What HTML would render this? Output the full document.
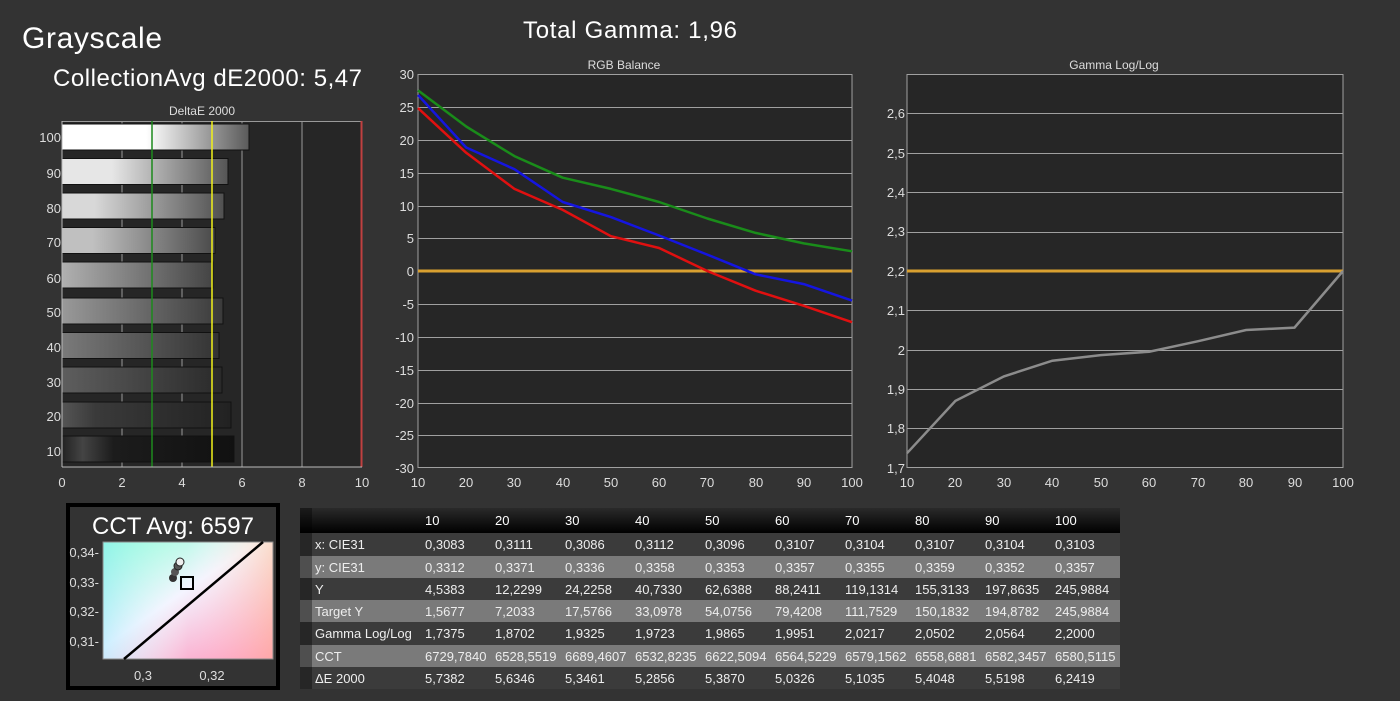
<!DOCTYPE html>
<html><head><meta charset="utf-8"><style>
html,body{margin:0;padding:0;background:#333;}
svg{display:block;font-family:"Liberation Sans",sans-serif;}
</style></head><body>
<svg width="1400" height="701" viewBox="0 0 1400 701" xmlns="http://www.w3.org/2000/svg">
<defs>
<linearGradient id="cie" x1="0" y1="0" x2="1" y2="1">
<stop offset="0" stop-color="#7fffd0"/><stop offset="0.45" stop-color="#f4f4ff"/><stop offset="1" stop-color="#ff7fae"/>
</linearGradient>
<linearGradient id="cie2" x1="0" y1="0" x2="1" y2="0">
<stop offset="0" stop-color="#a0e8ff" stop-opacity="0.5"/><stop offset="0.5" stop-color="#fff" stop-opacity="0"/><stop offset="1" stop-color="#ffd0a0" stop-opacity="0.5"/>
</linearGradient>
<linearGradient id="hdr" x1="0" y1="0" x2="0" y2="1"><stop offset="0" stop-color="#2a2a2a"/><stop offset="1" stop-color="#000"/></linearGradient>
</defs>
<rect width="1400" height="701" fill="#333"/>
<text x="22" y="48" font-size="30" fill="#fff" textLength="140">Grayscale</text>
<text x="53" y="86" font-size="24" fill="#fff" textLength="309">CollectionAvg dE2000: 5,47</text>
<text x="523" y="38" font-size="24" fill="#fff" textLength="214">Total Gamma: 1,96</text>

<!-- DeltaE chart -->
<text x="202" y="115" font-size="12" fill="#ddd" text-anchor="middle">DeltaE 2000</text>
<rect x="62" y="121" width="300" height="346" fill="#262626"/>
<g stroke="#999" stroke-width="1">
<line x1="122" y1="121" x2="122" y2="467"/><line x1="182" y1="121" x2="182" y2="467"/><line x1="242" y1="121" x2="242" y2="467"/><line x1="302" y1="121" x2="302" y2="467"/>
<line x1="62" y1="121.5" x2="362" y2="121.5"/>
</g>
<g id="bars" stroke="#111" stroke-width="1">
<linearGradient id="b100"><stop offset="0.45" stop-color="#fff"/><stop offset="1" stop-color="#5a5a5a"/></linearGradient>
<linearGradient id="b90"><stop offset="0.3" stop-color="#e6e6e6"/><stop offset="1" stop-color="#555"/></linearGradient>
<linearGradient id="b80"><stop offset="0.2" stop-color="#d8d8d8"/><stop offset="1" stop-color="#505050"/></linearGradient>
<linearGradient id="b70"><stop offset="0.2" stop-color="#c0c0c0"/><stop offset="1" stop-color="#4a4a4a"/></linearGradient>
<linearGradient id="b60"><stop offset="0" stop-color="#b0b0b0"/><stop offset="1" stop-color="#444"/></linearGradient>
<linearGradient id="b50"><stop offset="0" stop-color="#999"/><stop offset="1" stop-color="#3a3a3a"/></linearGradient>
<linearGradient id="b40"><stop offset="0" stop-color="#7a7a7a"/><stop offset="1" stop-color="#333"/></linearGradient>
<linearGradient id="b30"><stop offset="0" stop-color="#5e5e5e"/><stop offset="1" stop-color="#2a2a2a"/></linearGradient>
<linearGradient id="b20"><stop offset="0" stop-color="#555"/><stop offset="0.2" stop-color="#3a3a3a"/><stop offset="1" stop-color="#222"/></linearGradient>
<linearGradient id="b10"><stop offset="0" stop-color="#222"/><stop offset="0.12" stop-color="#444"/><stop offset="0.3" stop-color="#1c1c1c"/><stop offset="1" stop-color="#111"/></linearGradient>
<rect x="62" y="124" width="187" height="26" fill="url(#b100)"/>
<rect x="62" y="158.5" width="166" height="26" fill="url(#b90)"/>
<rect x="62" y="193" width="162" height="26" fill="url(#b80)"/>
<rect x="62" y="227.5" width="153" height="26" fill="url(#b70)"/>
<rect x="62" y="262" width="151" height="26" fill="url(#b60)"/>
<rect x="62" y="298" width="161" height="26" fill="url(#b50)"/>
<rect x="62" y="332.5" width="157" height="26" fill="url(#b40)"/>
<rect x="62" y="367" width="160" height="26" fill="url(#b30)"/>
<rect x="62" y="402" width="169" height="26" fill="url(#b20)"/>
<rect x="62" y="436" width="172" height="26" fill="url(#b10)"/>
</g>
<line x1="152" y1="121" x2="152" y2="467" stroke="#1d8a1d" stroke-width="1.5"/>
<line x1="212" y1="121" x2="212" y2="467" stroke="#f2f21a" stroke-width="1.5"/>
<line x1="361.5" y1="121" x2="361.5" y2="467" stroke="#c04040" stroke-width="2"/>
<line x1="62" y1="121" x2="62" y2="467" stroke="#bbb"/>
<line x1="62" y1="467" x2="362" y2="467" stroke="#bbb"/>
<g font-size="13" fill="#ddd" text-anchor="end">
<text x="61" y="142">100</text><text x="61" y="178">90</text><text x="61" y="213">80</text><text x="61" y="247">70</text><text x="61" y="283">60</text><text x="61" y="317">50</text><text x="61" y="352">40</text><text x="61" y="387">30</text><text x="61" y="421">20</text><text x="61" y="456">10</text>
</g>
<g font-size="13" fill="#ddd" text-anchor="middle">
<text x="62" y="487">0</text><text x="122" y="487">2</text><text x="182" y="487">4</text><text x="242" y="487">6</text><text x="302" y="487">8</text><text x="362" y="487">10</text>
</g>

<!-- RGB Balance -->
<text x="624" y="69" font-size="12" fill="#ddd" text-anchor="middle">RGB Balance</text>
<rect x="418" y="74" width="434" height="394" fill="#262626"/>
<g stroke="#a0a0a0" stroke-width="1">
<line x1="418" y1="74.5" x2="852" y2="74.5"/><line x1="418" y1="107.5" x2="852" y2="107.5"/><line x1="418" y1="140.5" x2="852" y2="140.5"/><line x1="418" y1="173.5" x2="852" y2="173.5"/><line x1="418" y1="206.5" x2="852" y2="206.5"/><line x1="418" y1="238.5" x2="852" y2="238.5"/><line x1="418" y1="304.5" x2="852" y2="304.5"/><line x1="418" y1="337.5" x2="852" y2="337.5"/><line x1="418" y1="370.5" x2="852" y2="370.5"/><line x1="418" y1="403.5" x2="852" y2="403.5"/><line x1="418" y1="435.5" x2="852" y2="435.5"/>
<line x1="418" y1="74" x2="418" y2="468"/><line x1="852" y1="74" x2="852" y2="468"/><line x1="418" y1="467.5" x2="852" y2="467.5"/>
</g>
<line x1="418" y1="271" x2="852" y2="271" stroke="#d8a030" stroke-width="3"/>
<g fill="none" stroke-width="2.5" stroke-linejoin="round">
<polyline stroke="#1a8c1a" points="418,90.4 466.2,126.5 514.4,156.1 562.7,177.7 610.9,188.9 659.1,202 707.3,218.5 755.6,232.9 803.8,243.4 852,251.3"/>
<polyline stroke="#e01010" points="418,108.1 466.2,152.8 514.4,188.9 562.7,209.9 610.9,236.2 659.1,248 707.3,271 755.6,290.7 803.8,305.8 852,322.2"/>
<polyline stroke="#1515e0" points="418,95 466.2,147.5 514.4,169.2 562.7,202 610.9,217.1 659.1,235.5 707.3,254.6 755.6,274.3 803.8,284.1 852,300.6"/>
</g>
<g font-size="13" fill="#ddd" text-anchor="end">
<text x="414" y="79">30</text><text x="414" y="112">25</text><text x="414" y="145">20</text><text x="414" y="178">15</text><text x="414" y="211">10</text><text x="414" y="243">5</text><text x="414" y="276">0</text><text x="414" y="309">-5</text><text x="414" y="342">-10</text><text x="414" y="375">-15</text><text x="414" y="408">-20</text><text x="414" y="440">-25</text><text x="414" y="473">-30</text>
</g>
<g font-size="13" fill="#ddd" text-anchor="middle">
<text x="418" y="487">10</text><text x="466" y="487">20</text><text x="514" y="487">30</text><text x="563" y="487">40</text><text x="611" y="487">50</text><text x="659" y="487">60</text><text x="707" y="487">70</text><text x="756" y="487">80</text><text x="804" y="487">90</text><text x="852" y="487">100</text>
</g>

<!-- Gamma -->
<text x="1114" y="69" font-size="12" fill="#ddd" text-anchor="middle">Gamma Log/Log</text>
<rect x="907" y="74" width="436" height="394" fill="#262626"/>
<g stroke="#a0a0a0" stroke-width="1">
<line x1="907" y1="113.5" x2="1343" y2="113.5"/><line x1="907" y1="153.5" x2="1343" y2="153.5"/><line x1="907" y1="192.5" x2="1343" y2="192.5"/><line x1="907" y1="232.5" x2="1343" y2="232.5"/><line x1="907" y1="310.5" x2="1343" y2="310.5"/><line x1="907" y1="350.5" x2="1343" y2="350.5"/><line x1="907" y1="389.5" x2="1343" y2="389.5"/><line x1="907" y1="428.5" x2="1343" y2="428.5"/>
<line x1="907" y1="74.5" x2="1343" y2="74.5"/><line x1="907" y1="74" x2="907" y2="468"/><line x1="1343" y1="74" x2="1343" y2="468"/><line x1="907" y1="467.5" x2="1343" y2="467.5"/>
</g>
<line x1="907" y1="271" x2="1343" y2="271" stroke="#d8a030" stroke-width="3"/>
<polyline fill="none" stroke="#8c8c8c" stroke-width="2.5" points="907,453.2 955.4,400.9 1003.9,376.4 1052.3,360.7 1100.8,355.1 1149.2,351.7 1197.6,341.3 1246.1,330 1294.5,327.6 1343,271"/>
<g font-size="13" fill="#ddd" text-anchor="end">
<text x="905" y="118">2,6</text><text x="905" y="158">2,5</text><text x="905" y="197">2,4</text><text x="905" y="236">2,3</text><text x="905" y="276">2,2</text><text x="905" y="315">2,1</text><text x="905" y="355">2</text><text x="905" y="394">1,9</text><text x="905" y="433">1,8</text><text x="905" y="473">1,7</text>
</g>
<g font-size="13" fill="#ddd" text-anchor="middle">
<text x="907" y="487">10</text><text x="955" y="487">20</text><text x="1004" y="487">30</text><text x="1052" y="487">40</text><text x="1101" y="487">50</text><text x="1149" y="487">60</text><text x="1198" y="487">70</text><text x="1246" y="487">80</text><text x="1295" y="487">90</text><text x="1343" y="487">100</text>
</g>

<!-- CCT box -->
<rect x="68" y="505" width="210" height="183" fill="#333" stroke="#000" stroke-width="4"/>
<text x="173" y="534" font-size="24" fill="#fff" text-anchor="middle" textLength="162">CCT Avg: 6597</text>
<rect x="103" y="542" width="170" height="117" fill="url(#cie)"/>
<rect x="103" y="542" width="170" height="117" fill="url(#cie2)"/>
<rect x="103" y="542" width="170" height="117" fill="none" stroke="#888"/>
<line x1="124" y1="659" x2="263" y2="542" stroke="#000" stroke-width="2.5"/>
<circle cx="173" cy="578" r="4" fill="#333"/><circle cx="175" cy="572" r="4" fill="#555"/><circle cx="178" cy="566" r="4" fill="#555" stroke="#222"/><circle cx="180" cy="562" r="4" fill="#eee" stroke="#222"/>
<rect x="181" y="577" width="12" height="12" fill="none" stroke="#000" stroke-width="2"/>
<g font-size="13" fill="#ddd" text-anchor="end">
<text x="99" y="557">0,34-</text><text x="99" y="587">0,33-</text><text x="99" y="616">0,32-</text><text x="99" y="646">0,31-</text>
</g>
<g font-size="13" fill="#ddd" text-anchor="middle"><text x="143" y="680">0,3</text><text x="212" y="680">0,32</text></g>

<!-- Table -->
<rect x="300" y="508" width="820" height="25" fill="url(#hdr)"/>
<rect x="300" y="533" width="820" height="23" fill="#3b3b3b"/>
<rect x="300" y="556" width="820" height="22" fill="#7a7a7a"/>
<rect x="300" y="578" width="820" height="22" fill="#3b3b3b"/>
<rect x="300" y="600" width="820" height="22" fill="#7a7a7a"/>
<rect x="300" y="622" width="820" height="23" fill="#3b3b3b"/>
<rect x="300" y="645" width="820" height="22" fill="#7a7a7a"/>
<rect x="300" y="667" width="820" height="22" fill="#3b3b3b"/>
<rect x="300" y="508" width="12" height="181" fill="#000" opacity="0.35"/>
<g font-size="13" fill="#fff">
<text x="425" y="525">10</text><text x="495" y="525">20</text><text x="565" y="525">30</text><text x="635" y="525">40</text><text x="705" y="525">50</text><text x="775" y="525">60</text><text x="845" y="525">70</text><text x="915" y="525">80</text><text x="985" y="525">90</text><text x="1055" y="525">100</text>
</g>
<g font-size="13" fill="#eee">
<text x="315" y="549">x: CIE31</text><text x="315" y="572">y: CIE31</text><text x="315" y="594">Y</text><text x="315" y="616">Target Y</text><text x="315" y="638">Gamma Log/Log</text><text x="315" y="661">CCT</text><text x="315" y="683">ΔE 2000</text>
</g>
<g font-size="13" fill="#eee">
<text y="549"><tspan x="425">0,3083</tspan><tspan x="495">0,3111</tspan><tspan x="565">0,3086</tspan><tspan x="635">0,3112</tspan><tspan x="705">0,3096</tspan><tspan x="775">0,3107</tspan><tspan x="845">0,3104</tspan><tspan x="915">0,3107</tspan><tspan x="985">0,3104</tspan><tspan x="1055">0,3103</tspan></text>
<text y="572"><tspan x="425">0,3312</tspan><tspan x="495">0,3371</tspan><tspan x="565">0,3336</tspan><tspan x="635">0,3358</tspan><tspan x="705">0,3353</tspan><tspan x="775">0,3357</tspan><tspan x="845">0,3355</tspan><tspan x="915">0,3359</tspan><tspan x="985">0,3352</tspan><tspan x="1055">0,3357</tspan></text>
<text y="594"><tspan x="425">4,5383</tspan><tspan x="495">12,2299</tspan><tspan x="565">24,2258</tspan><tspan x="635">40,7330</tspan><tspan x="705">62,6388</tspan><tspan x="775">88,2411</tspan><tspan x="845">119,1314</tspan><tspan x="915">155,3133</tspan><tspan x="985">197,8635</tspan><tspan x="1055">245,9884</tspan></text>
<text y="616"><tspan x="425">1,5677</tspan><tspan x="495">7,2033</tspan><tspan x="565">17,5766</tspan><tspan x="635">33,0978</tspan><tspan x="705">54,0756</tspan><tspan x="775">79,4208</tspan><tspan x="845">111,7529</tspan><tspan x="915">150,1832</tspan><tspan x="985">194,8782</tspan><tspan x="1055">245,9884</tspan></text>
<text y="638"><tspan x="425">1,7375</tspan><tspan x="495">1,8702</tspan><tspan x="565">1,9325</tspan><tspan x="635">1,9723</tspan><tspan x="705">1,9865</tspan><tspan x="775">1,9951</tspan><tspan x="845">2,0217</tspan><tspan x="915">2,0502</tspan><tspan x="985">2,0564</tspan><tspan x="1055">2,2000</tspan></text>
<text y="661"><tspan x="425">6729,7840</tspan><tspan x="495">6528,5519</tspan><tspan x="565">6689,4607</tspan><tspan x="635">6532,8235</tspan><tspan x="705">6622,5094</tspan><tspan x="775">6564,5229</tspan><tspan x="845">6579,1562</tspan><tspan x="915">6558,6881</tspan><tspan x="985">6582,3457</tspan><tspan x="1055">6580,5115</tspan></text>
<text y="683"><tspan x="425">5,7382</tspan><tspan x="495">5,6346</tspan><tspan x="565">5,3461</tspan><tspan x="635">5,2856</tspan><tspan x="705">5,3870</tspan><tspan x="775">5,0326</tspan><tspan x="845">5,1035</tspan><tspan x="915">5,4048</tspan><tspan x="985">5,5198</tspan><tspan x="1055">6,2419</tspan></text>
</g>
</svg>
</body></html>
